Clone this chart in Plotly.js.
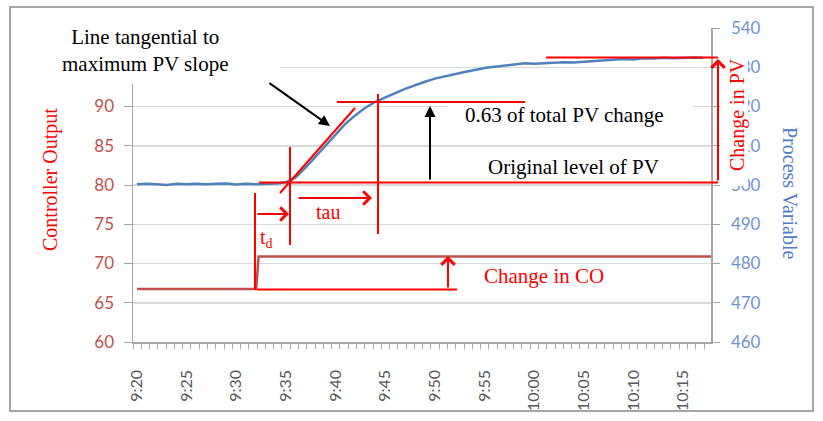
<!DOCTYPE html>
<html><head><meta charset="utf-8">
<script src="https://cdn.plot.ly/plotly-3.0.1.min.js"></script>
<style>html,body{margin:0;padding:0;background:#fff}#chart{width:823px;height:421px}</style>
</head><body><div id="chart"></div>
<script>
const DAY = "2000-01-01 ";

// Process Variable (right axis) sampled per minute
const pvTimes = ["09:20","09:21","09:22","09:23","09:24","09:25","09:26","09:27","09:28","09:29",
  "09:30","09:31","09:32","09:33","09:34","09:35","09:36","09:37","09:38","09:39",
  "09:40","09:41","09:42","09:43","09:44","09:45","09:46","09:47","09:48","09:49",
  "09:50","09:51","09:52","09:53","09:54","09:55","09:56","09:57","09:58","09:59",
  "10:00","10:01","10:02","10:03","10:04","10:05","10:06","10:07","10:08","10:09",
  "10:10","10:11","10:12","10:13","10:14","10:15","10:16","10:17"];
const pvValues = [500.2,500.3,500.2,500.0,500.3,500.2,500.3,500.2,500.3,500.4,
  500.1,500.3,500.2,500.3,500.4,500.7,502.0,504.5,507.3,510.2,
  513.0,515.6,517.8,519.7,521.2,522.4,523.4,524.5,525.5,526.3,
  527.1,527.7,528.3,528.8,529.3,529.8,530.1,530.4,530.7,531.0,
  530.9,531.0,531.1,531.3,531.2,531.4,531.5,531.8,531.9,532.1,
  532.0,532.3,532.2,532.4,532.3,532.4,532.5,532.4];

// Controller Output (left axis)
const coTimes = ["09:20","09:32","09:32:15","10:17:48"];
const coValues = [66.75,66.75,70.9,70.9];

// x tick labels
const tickTimes = ["09:20","09:25","09:30","09:35","09:40","09:45","09:50","09:55","10:00","10:05","10:10","10:15"];
const tickLabels = ["9:20","9:25","9:30","9:35","9:40","9:45","9:50","9:55","10:00","10:05","10:10","10:15"];

// left axis ticks (95 and 100 hidden behind the text box in the original)
const coTickVals = [60, 65, 70, 75, 80, 85, 90, 95, 100];
const coTickText = ["60", "65", "70", "75", "80", "85", "90", "", ""];

const toDate = t => DAY + t;

// plot area in pixels (for overlay drawing)
const PL = 133, PR = 711, PT = 28, PB = 342;
const X = px => (px - PL) / (PR - PL);
const Y = py => (PB - py) / (PB - PT);

const RED = "#ff0000";
const shapes = [];
const annotations = [];

function rectCover(x0, y0, x1, y1) {
  shapes.push({type: "rect", xref: "paper", yref: "paper", x0: X(x0), x1: X(x1), y0: Y(y1), y1: Y(y0),
    fillcolor: "#ffffff", line: {width: 0}, layer: "above"});
}
function seg(x0, y0, x1, y1, color, w) {
  shapes.push({type: "line", xref: "paper", yref: "paper", x0: X(x0), y0: Y(y0), x1: X(x1), y1: Y(y1),
    line: {color: color, width: w || 2}, layer: "above"});
}
function arrow(tx, ty, hx, hy, color, head, size) {
  annotations.push({xref: "paper", yref: "paper", x: X(hx), y: Y(hy), ax: tx - hx, ay: ty - hy,
    text: "", showarrow: true, arrowhead: head, arrowsize: size || 1.2, arrowwidth: 2,
    arrowcolor: color, standoff: 0, startstandoff: 0});
}
function label(px, py, text, size, color, opts) {
  annotations.push(Object.assign({xref: "paper", yref: "paper", x: X(px), y: Y(py), text: text,
    showarrow: false, xanchor: "center", yanchor: "middle",
    font: {family: "Liberation Serif, Times New Roman, serif", size: size, color: color}}, opts || {}));
}

// white text boxes covering grid / ticks
rectCover(24, 12, 280, 84);
rectCover(447, 104, 693, 128);
rectCover(722, 55, 748, 186);

// red construction lines
seg(280, 193, 355, 108, RED);          // tangent
seg(259, 182.5, 718, 182.5, RED);      // original PV level
seg(337, 102, 525, 102, RED);          // 0.63 level
seg(378, 94, 378, 234, RED);           // end of tau
seg(290, 147, 290, 245, RED);          // end of dead time
seg(255, 193, 255, 290, RED);          // CO step time
seg(257, 289.5, 457, 289.5, RED);      // original CO level
seg(546, 57.5, 718, 57.5, RED);        // final PV level

// arrows
arrow(256, 214, 289, 214, RED, 4, 1.3);   // td
arrow(297, 198, 372, 198, RED, 4, 1.3);   // tau
arrow(448, 289, 448, 256, RED, 4, 1.3);   // change in CO
arrow(718, 182, 718, 59, RED, 4, 1.3);    // change in PV
arrow(268, 82, 330, 126, "#000000", 2, 1.1); // tangent pointer
arrow(430, 181, 430, 106, "#000000", 2, 1.1); // 0.63 arrow

// texts
label(145, 50, "Line tangential to<br>maximum PV slope", 21, "#000000");
label(564, 115, "0.63 of total PV change", 21, "#000000");
label(573, 167, "Original level of PV", 21, "#000000");
label(544, 276, "Change in CO", 21, RED);
label(328, 212, "tau", 20, RED);
label(266, 238, "t<sub>d</sub>", 20, RED);
label(737, 115, "Change in PV", 20, RED, {textangle: -90});
label(50, 180, "Controller Output", 20, RED, {textangle: -90});
label(790, 193, "Process Variable", 20, "#4f7cc4", {textangle: 90});

// outer chart border
shapes.push({type: "rect", xref: "paper", yref: "paper", x0: X(10), x1: X(813), y0: Y(411), y1: Y(7),
  line: {color: "#a6a6a6", width: 2}, fillcolor: "rgba(0,0,0,0)", layer: "below"});

const traces = [
  {x: coTimes.map(toDate), y: coValues, type: "scatter", mode: "lines", yaxis: "y",
   line: {color: "#c0504d", width: 2.5}, hoverinfo: "skip", name: "CO"},
  {x: pvTimes.map(toDate), y: pvValues, type: "scatter", mode: "lines", yaxis: "y2",
   line: {color: "#4f81bd", width: 2.5}, hoverinfo: "skip", name: "PV"}
];

const tickFont = (c, s) => ({family: "Lato, Carlito, Calibri, sans-serif", size: s || 17, color: c});

const layout = {
  width: 823, height: 421,
  margin: {l: PL, r: 823 - PR, t: PT, b: 421 - PB, pad: 0},
  paper_bgcolor: "#ffffff", plot_bgcolor: "#ffffff",
  showlegend: false,
  xaxis: {
    type: "date",
    range: [toDate("09:19:36"), toDate("10:17:48")],
    tickmode: "array", tickvals: tickTimes.map(toDate), ticktext: tickLabels,
    tickangle: -90, tickfont: tickFont("#595959", 16),
    ticks: "", ticklabelstandoff: 20,
    showgrid: false, zeroline: false,
    showline: true, linecolor: "#a6a6a6", linewidth: 1.5,
    minor: {tickmode: "linear", tick0: toDate("09:19:36"), dtick: 50000, ticks: "outside",
            ticklen: 5, tickcolor: "#a6a6a6", tickwidth: 1, showgrid: false}
  },
  yaxis: {
    range: [60, 100], tickmode: "array", tickvals: coTickVals, ticktext: coTickText,
    tickfont: tickFont("#c0504d"),
    ticks: "outside", ticklen: 8, tickcolor: "#a6a6a6", ticklabelstandoff: 6,
    showgrid: true, gridcolor: "#d9d9d9", gridwidth: 1.5,
    zeroline: false, showline: true, linecolor: "#a6a6a6", linewidth: 1.5
  },
  yaxis2: {
    range: [460, 540], dtick: 10, tick0: 460,
    overlaying: "y", side: "right",
    tickfont: tickFont("#6f94cf"),
    ticks: "outside", ticklen: 7, tickcolor: "#a6a6a6", ticklabelstandoff: 8,
    showgrid: false, zeroline: false, showline: true, linecolor: "#a6a6a6", linewidth: 1.5
  },
  shapes: shapes,
  annotations: annotations
};

Plotly.newPlot("chart", traces, layout, {staticPlot: true, displayModeBar: false});
</script>
</body></html>
